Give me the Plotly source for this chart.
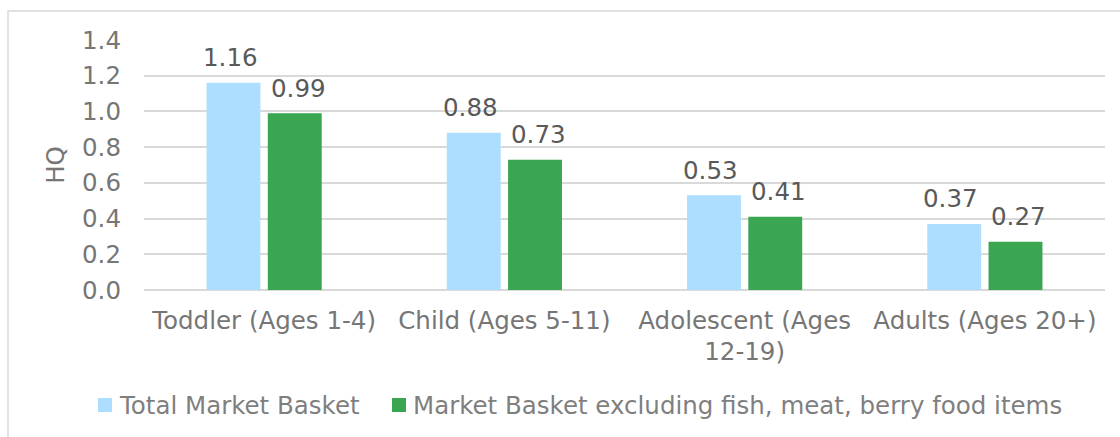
import plotly.graph_objects as go

categories = ["Toddler (Ages 1-4)", "Child (Ages 5-11)", "Adolescent (Ages<br>12-19)", "Adults (Ages 20+)"]
total_basket = [1.16, 0.88, 0.53, 0.37]
excl_basket = [0.99, 0.73, 0.41, 0.27]
series_names = ["Total Market Basket", "Market Basket excluding fish, meat, berry food items"]
y_ticks = [0.0, 0.2, 0.4, 0.6, 0.8, 1.0, 1.2, 1.4]

FONT = "DejaVu Sans, Verdana, sans-serif"
LABEL_GREY = "#595959"
TICK_GREY = "#767676"
GRID = "#d9d9d9"
FS = 24.5

# plot area geometry in pixels (used to place frame and legend in paper units)
W, H = 1120, 437
L, R, T, B = 144, 15, 40, 147
PW, PH = W - L - R, H - T - B


def px_x(px):
    return (px - L) / PW


def px_y(py):
    return (H - B - py) / PH


series = [
    (series_names[0], total_basket, "#addeff", -34),
    (series_names[1], excl_basket, "#3aa651", 34),
]

fig = go.Figure()
for name, vals, color, shift in series:
    fig.add_trace(go.Bar(
        x=categories, y=vals, name=name, showlegend=False,
        marker=dict(color=color, line=dict(width=0)),
    ))
    # value labels above each bar
    for cat, v in zip(categories, vals):
        fig.add_annotation(x=cat, y=v, text=f"{v:.2f}", showarrow=False,
                           xshift=shift, yshift=25, yanchor="middle",
                           font=dict(family=FONT, size=FS, color=LABEL_GREY))

# Legend: colour swatch followed by series name
legend_x = [98, 392]
for (name, _, color, _), lx in zip(series, legend_x):
    fig.add_shape(type="rect", xref="paper", yref="paper",
                  x0=px_x(lx), x1=px_x(lx + 14), y0=px_y(412), y1=px_y(398),
                  line=dict(width=0), fillcolor=color)
    fig.add_annotation(xref="paper", yref="paper", x=px_x(lx + 19), y=px_y(405),
                       text=name, showarrow=False, xanchor="left", yanchor="middle",
                       font=dict(family=FONT, size=FS, color="#7f7f7f"))

# Outer chart frame
fig.add_shape(type="rect", xref="paper", yref="paper",
              x0=px_x(8), x1=px_x(1200), y0=px_y(600), y1=px_y(11),
              line=dict(color=GRID, width=1.5), fillcolor="rgba(0,0,0,0)", layer="below")

fig.update_layout(
    width=W, height=H,
    margin=dict(l=L, r=R, t=T, b=B, autoexpand=False),
    paper_bgcolor="white", plot_bgcolor="white",
    barmode="group", bargap=0.49, bargroupgap=0.12,
    font=dict(family=FONT, size=FS, color=TICK_GREY),
    showlegend=False,
    xaxis=dict(showgrid=False, showline=False, ticks="", ticklabelstandoff=13, automargin=False,
               tickfont=dict(family=FONT, size=FS, color=TICK_GREY)),
    yaxis=dict(range=[0, 1.4], tickvals=y_ticks, tickformat=".1f", automargin=False,
               showgrid=True, gridcolor=GRID, gridwidth=1.5,
               zeroline=True, zerolinecolor=GRID, zerolinewidth=1.5,
               showline=False, ticks="", ticklabelstandoff=22,
               tickfont=dict(family=FONT, size=FS, color=TICK_GREY),
               title=dict(text="HQ", font=dict(family=FONT, size=FS, color=TICK_GREY), standoff=10)),
)

fig.write_html("out.html")
